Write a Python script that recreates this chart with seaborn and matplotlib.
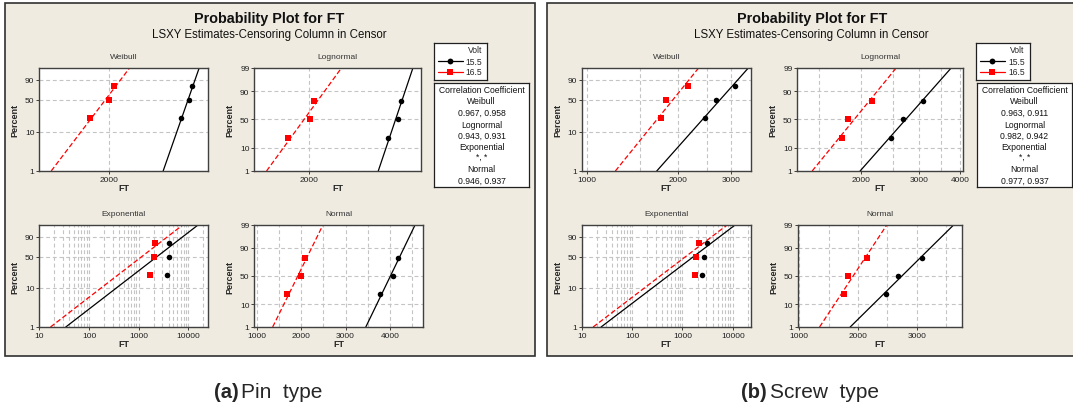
import math
import numpy as np
import matplotlib
matplotlib.use("Agg")
import matplotlib.pyplot as plt
from matplotlib.patches import Rectangle
from matplotlib.ticker import NullFormatter, NullLocator, LogLocator
import seaborn as sns

np.seterr(all="ignore")
sns.set_style("ticks")
plt.rcParams["font.family"] = ["Liberation Sans", "DejaVu Sans"]

W, H = 1073, 410

# failure times (FT), 3 units per voltage level
pin_155 = [3782, 4075, 4173]
pin_165 = [1684, 2008, 2083]
screw_155 = [2470, 2678, 3090]
screw_165 = [1757, 1836, 2160]

volts = ["15.5", "16.5"]
dists = ["Weibull", "Lognormal", "Exponential", "Normal"]
pin_corr = ["0.967, 0.958", "0.943, 0.931", "*, *", "0.946, 0.937"]
screw_corr = ["0.963, 0.911", "0.982, 0.942", "*, *", "0.977, 0.937"]

# x ranges / ticks / extra grid lines as they appear in each small plot
pin_xlim = [(1080, 4816), (1285, 4916), (10, 25200), (946, 4750)]
screw_xlim = [(962, 3500), (1285, 4070), (10, 22700), (975, 3773)]
pin_xticks = [[2000], [2000], [10, 100, 1000, 10000], [1000, 2000, 3000, 4000]]
screw_xticks = [[1000, 2000, 3000], [2000, 3000, 4000], [10, 100, 1000, 10000], [1000, 2000, 3000]]
pin_xminor = [[], [], None, [1500, 2500, 3500, 4500]]
screw_xminor = [[1500, 2500], [1500, 2500, 3500], None, [1500, 2500, 3500]]
yticks_short = [1, 10, 50, 90]
yticks_long = [1, 10, 50, 90, 99]

colors = ["black", "#FF0000"]
markers = ["o", "s"]
styles = ["-", (0, (4, 2))]
grid_col = "#C4C4C4"
beige = "#EFEBE1"


# probability scales
def weib_fwd(p):
    q = np.clip(np.asarray(p, float) / 100, 1e-9, 1 - 1e-9)
    return np.log(-np.log(1 - q))


def weib_inv(y):
    return 100 * (1 - np.exp(-np.exp(np.asarray(y, float))))


_erf = np.vectorize(math.erf, otypes=[float])


def norm_inv(z):
    return 50 * (1 + _erf(np.asarray(z, float) / math.sqrt(2)))


def norm_fwd(p):
    q = np.clip(np.asarray(p, float), 1e-7, 100 - 1e-7)
    lo = np.full(q.shape, -8.0)
    hi = np.full(q.shape, 8.0)
    for _ in range(55):
        mid = 0.5 * (lo + hi)
        low = norm_inv(mid) < q
        lo = np.where(low, mid, lo)
        hi = np.where(low, hi, mid)
    return 0.5 * (lo + hi)


q3 = (np.arange(1, 4) - 0.3) / (3 + 0.4)   # median ranks
p_line = np.linspace(1, 99, 80)


def lsxy_line(dist, ft):
    # least squares fit, X regressed on Y (LSXY)
    x = np.sort(np.asarray(ft, float))
    if dist == "Weibull":
        b, a = np.polyfit(weib_fwd(q3 * 100), np.log(x), 1)
        return np.exp(a + b * weib_fwd(p_line))
    if dist == "Lognormal":
        b, a = np.polyfit(norm_fwd(q3 * 100), np.log(x), 1)
        return np.exp(a + b * norm_fwd(p_line))
    if dist == "Normal":
        b, a = np.polyfit(norm_fwd(q3 * 100), x, 1)
        return a + b * norm_fwd(p_line)
    e = -np.log(1 - q3)
    theta = np.sum(x * e) / np.sum(e * e)
    return -theta * np.log(1 - p_line / 100)


fig = plt.figure(figsize=(W / 100, H / 100), dpi=100)


def px_axes(x0, y0, x1, y1):
    return fig.add_axes([x0 / W, 1 - y1 / H, (x1 - x0) / W, (y1 - y0) / H])


def draw_prob(ax, dist, groups, xlim, xticks, xminor, wpx, hpx):
    if dist in ("Weibull", "Exponential"):
        ax.set_yscale("function", functions=(weib_fwd, weib_inv))
        yt = yticks_short
    else:
        ax.set_yscale("function", functions=(norm_fwd, norm_inv))
        yt = yticks_long
    if dist != "Normal":
        ax.set_xscale("log")
    for ft, col, mk, ls in zip(groups, colors, markers, styles):
        sns.lineplot(x=lsxy_line(dist, ft), y=p_line, ax=ax, color=col,
                     linestyle=ls, linewidth=0.9, estimator=None, sort=False, zorder=2)
        sns.scatterplot(x=np.sort(ft), y=q3 * 100, ax=ax, marker=mk, color=col,
                        s=16, linewidth=0, zorder=3)
    ax.set_xlim(*xlim)
    ax.set_ylim(1, 99)
    ax.set_yticks(yt, labels=[str(v) for v in yt])
    ax.set_xticks(xticks, labels=[str(v) for v in xticks])
    if xminor is None:
        ax.xaxis.set_minor_locator(LogLocator(subs=np.arange(2, 10), numticks=60))
    else:
        ax.set_xticks(xminor, minor=True)
    ax.xaxis.set_minor_formatter(NullFormatter())
    ax.yaxis.set_minor_locator(NullLocator())
    ax.set_facecolor("white")
    ax.grid(True, which="both", color=grid_col, linestyle=(0, (3.5, 2.5)), linewidth=0.8)
    ax.set_axisbelow(True)
    ax.tick_params(which="major", length=2, width=0.6, labelsize=6, pad=1.5,
                   colors="#222222", bottom=True, left=True)
    ax.tick_params(which="minor", length=0)
    for sp in ax.spines.values():
        sp.set_color("#404040")
        sp.set_linewidth(1.0)
    ax.set_title(dist, fontsize=6, color="#333333", pad=7.5)
    ax.set_xlabel("FT", fontsize=6.5, fontweight="bold", va="center")
    ax.set_ylabel("Percent", fontsize=6.5, fontweight="bold", va="center")
    ax.xaxis.set_label_coords(0.5, -16.5 / hpx)
    ax.yaxis.set_label_coords(-24 / wpx, 0.5)


panels = [
    dict(box=(5, 4, 535, 357), cx=269.5, groups=(pin_155, pin_165), corr=pin_corr,
         xlim=pin_xlim, xticks=pin_xticks, xminor=pin_xminor,
         rects=[(39.3, 69, 208.3, 172), (254.3, 69, 421, 172),
                (39.3, 226, 208.3, 328), (254.3, 226, 423.3, 328)],
         leg=(434, 44, 487, 81), cbox=(434, 84, 529, 188),
         tag="(a)", name="Pin  type", cap=(214, 241)),
    dict(box=(547, 4, 1085, 357), cx=811.7, groups=(screw_155, screw_165), corr=screw_corr,
         xlim=screw_xlim, xticks=screw_xticks, xminor=screw_xminor,
         rects=[(581.7, 69, 751, 172), (797.3, 69, 962.7, 172),
                (581.7, 226, 750.7, 328), (797.7, 226, 962.3, 328)],
         leg=(976, 44, 1030, 81), cbox=(977, 84, 1072, 188),
         tag="(b)", name="Screw  type", cap=(741, 770)),
]

corr_rows_y = [90.7, 101.7, 113.3, 125.3, 136.3, 147, 157, 169.3, 181]

for pn in panels:
    x0, y0, x1, y1 = pn["box"]
    fig.add_artist(Rectangle((x0 / W, 1 - y1 / H), (x1 - x0) / W, (y1 - y0) / H,
                             transform=fig.transFigure, facecolor=beige,
                             edgecolor="#303030", linewidth=1.2, zorder=-5))
    fig.text(pn["cx"] / W, 1 - 19.5 / H, "Probability Plot for FT", ha="center",
             va="center", fontsize=10.4, fontweight="bold", color="#111111")
    fig.text(pn["cx"] / W, 1 - 35.3 / H, "LSXY Estimates-Censoring Column in Censor",
             ha="center", va="center", fontsize=8.3, color="#111111")

    for i, dist in enumerate(dists):
        r = pn["rects"][i]
        ax = px_axes(*r)
        draw_prob(ax, dist, pn["groups"], pn["xlim"][i], pn["xticks"][i],
                  pn["xminor"][i], r[2] - r[0], r[3] - r[1])

    # legend box
    lg = px_axes(*pn["leg"])
    lg.set_xlim(0, 1)
    lg.set_ylim(0, 1)
    lg.set_xticks([])
    lg.set_yticks([])
    for sp in lg.spines.values():
        sp.set_color("#202020")
        sp.set_linewidth(0.9)
    lg.text(0.77, 0.82, "Volt", ha="center", va="center", fontsize=6.2)
    for yy, lab, col, mk in zip([0.51, 0.22], volts, colors, markers):
        lg.plot([0.07, 0.54], [yy, yy], color=col, lw=0.9)
        lg.plot([0.30], [yy], marker=mk, color=col, ms=4.2, mew=0)
        lg.text(0.60, yy, lab, ha="left", va="center", fontsize=6.2)

    # correlation coefficient box
    cx0, cy0, cx1, cy1 = pn["cbox"]
    cb = px_axes(*pn["cbox"])
    cb.set_xlim(0, 1)
    cb.set_ylim(0, 1)
    cb.set_xticks([])
    cb.set_yticks([])
    for sp in cb.spines.values():
        sp.set_color("#202020")
        sp.set_linewidth(0.9)
    rows = ["Correlation Coefficient"]
    for d, c in zip(dists, pn["corr"]):
        rows += [d, c]
    for txt, yy in zip(rows, corr_rows_y):
        cb.text(0.5, 1 - (yy - cy0) / (cy1 - cy0), txt, ha="center", va="center",
                fontsize=6.2, color="#111111")

    # caption under the panel
    fig.text(pn["cap"][0] / W, 1 - 393 / H, pn["tag"], ha="left", va="center",
             fontsize=14.5, fontweight="bold")
    fig.text(pn["cap"][1] / W, 1 - 393 / H, pn["name"], ha="left", va="center",
             fontsize=15)

fig.savefig("out.png", dpi=100, facecolor="white")
